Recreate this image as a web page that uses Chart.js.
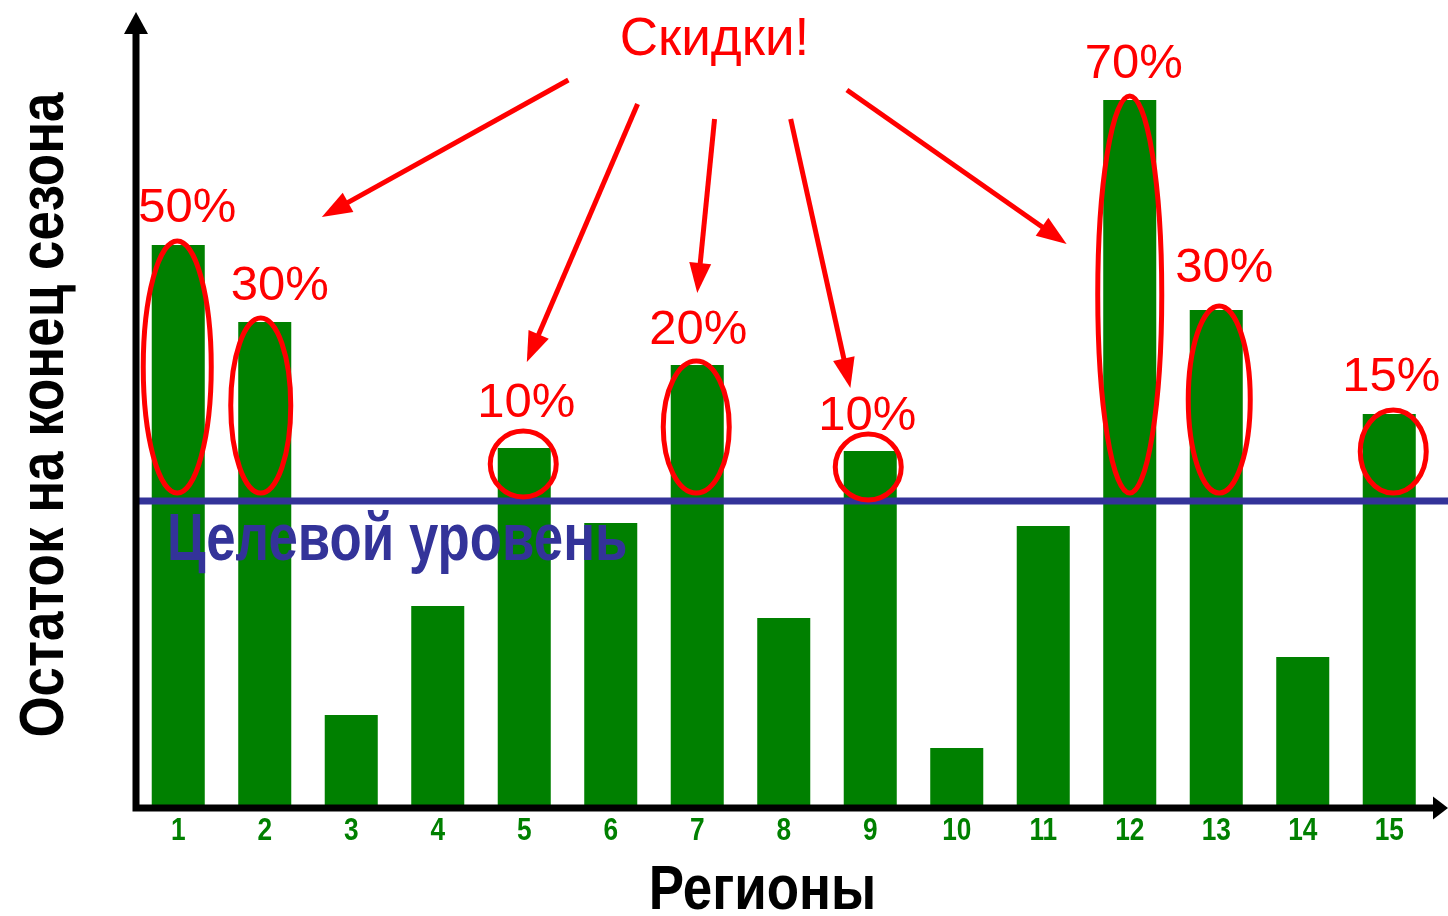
<!DOCTYPE html>
<html>
<head>
<meta charset="utf-8">
<script src="https://cdn.jsdelivr.net/npm/chart.js@4.4.1/dist/chart.umd.min.js"></script>
<style>
  html, body { margin: 0; padding: 0; background: #ffffff; }
  #wrap { width: 1448px; height: 916px; }
</style>
</head>
<body>
<div id="wrap"><canvas id="c" width="1448" height="916"></canvas></div>
<script>
// Regions and end-of-season stock
const regions = ['1', '2', '3', '4', '5', '6', '7', '8', '9', '10', '11', '12', '13', '14', '15'];
const stock = [56.0, 48.3, 9.0, 19.9, 35.7, 28.2, 44.0, 18.7, 35.4, 5.7, 27.9, 70.5, 49.5, 14.8, 39.1];
const targetLevel = 30.4;
const yMax = 79;

// Regions that get a discount, and the discount size
const discountRegions = ['1', '2', '5', '7', '9', '12', '13', '15'];
const discountLabels = ['50%', '30%', '10%', '20%', '10%', '70%', '30%', '15%'];

// Callout arrows from the "Скидки!" heading, in data space: [categoryIndex, value]
const arrowFrom = [[4.51, 72.5], [5.31, 70.1], [6.20, 68.6], [7.08, 68.6], [7.73, 71.5]];
const arrowTo   = [[1.66, 58.8], [4.03, 44.3], [6.00, 51.2], [7.77, 41.7], [10.27, 56.1]];

const GREEN = '#008000';
const BLUE = '#333399';
const RED = '#ff0000';
const SANS = '"Liberation Sans", Arial, sans-serif';
const NARROW_X = 0.82;   // horizontal squeeze giving a narrow bold face

// small nudges for the percentage labels, [dx, dy] in px
const labelShift = [[9, -1], [15, 0], [2, -9], [1, 1], [-3, 1], [4, 0], [8, -6], [2, -1]];
// hand-drawn rings sit a little off the bar centres, [dx, rx] in px
const ringShape = [[-1, 34], [-4, 30], [-1, 33], [-1, 33], [-2, 33], [0, 32], [3, 31], [4, 33]];

function narrowText(ctx, text, x, y, align, squeeze) {
  ctx.save();
  ctx.translate(x, y);
  ctx.scale(squeeze, 1);
  ctx.textAlign = align;
  ctx.fillText(text, 0, 0);
  ctx.restore();
}

function arrow(ctx, x0, y0, x1, y1) {
  const dx = x1 - x0, dy = y1 - y0;
  const len = Math.hypot(dx, dy);
  const ux = dx / len, uy = dy / len;
  const head = 30, half = 11;
  const bx = x1 - ux * head, by = y1 - uy * head;
  ctx.beginPath();
  ctx.moveTo(x0, y0);
  ctx.lineTo(bx + ux * 2, by + uy * 2);
  ctx.stroke();
  ctx.beginPath();
  ctx.moveTo(x1, y1);
  ctx.lineTo(bx - uy * half, by + ux * half);
  ctx.lineTo(bx + uy * half, by - ux * half);
  ctx.closePath();
  ctx.fill();
}

const overlay = {
  id: 'overlay',
  afterDatasetsDraw(chart) {
    const { ctx, chartArea: area, scales: { x, y } } = chart;
    const W = chart.width;
    const yT = y.getPixelForValue(targetLevel);

    ctx.save();
    ctx.textBaseline = 'alphabetic';

    // target level line and its caption
    ctx.strokeStyle = BLUE;
    ctx.lineWidth = 7;
    ctx.beginPath();
    ctx.moveTo(area.left + 3, yT);
    ctx.lineTo(W, yT);
    ctx.stroke();
    ctx.fillStyle = BLUE;
    ctx.font = 'bold 66px ' + SANS;
    narrowText(ctx, 'Целевой уровень', area.left + 32, yT + 59, 'left', 0.80);

    // axes with arrow heads
    ctx.strokeStyle = '#000';
    ctx.fillStyle = '#000';
    ctx.lineWidth = 7;
    const ax = area.left + 1, ay = area.bottom + 3;
    ctx.beginPath();
    ctx.moveTo(ax, ay + 3.5);
    ctx.lineTo(ax, 30);
    ctx.moveTo(ax - 3.5, ay);
    ctx.lineTo(W - 14, ay);
    ctx.stroke();
    ctx.beginPath();
    ctx.moveTo(ax, 12); ctx.lineTo(ax - 12, 34); ctx.lineTo(ax + 12, 34); ctx.closePath();
    ctx.fill();
    ctx.beginPath();
    ctx.moveTo(W, ay); ctx.lineTo(W - 15, ay - 11.5); ctx.lineTo(W - 15, ay + 11.5); ctx.closePath();
    ctx.fill();

    // category tick labels
    ctx.fillStyle = GREEN;
    ctx.font = 'bold 32px ' + SANS;
    x.ticks.forEach((t, i) => {
      narrowText(ctx, x.getLabelForValue(t.value), x.getPixelForTick(i), area.bottom + 35, 'center', NARROW_X);
    });

    // axis titles
    ctx.fillStyle = '#000';
    ctx.font = 'bold 63px ' + SANS;
    narrowText(ctx, 'Регионы', (area.left + W) / 2 - 29, area.bottom + 104, 'center', 0.84);
    ctx.save();
    ctx.translate(63, (area.top + area.bottom) / 2 + 5);
    ctx.rotate(-Math.PI / 2);
    narrowText(ctx, 'Остаток на конец сезона', 0, 0, 'center', 0.84);
    ctx.restore();

    // rings and discount labels
    ctx.strokeStyle = RED;
    ctx.fillStyle = RED;
    ctx.lineWidth = 5;
    ctx.font = '49px ' + SANS;
    ctx.textAlign = 'center';
    discountRegions.forEach((r, i) => {
      const idx = regions.indexOf(r);
      const cx = x.getPixelForValue(idx);
      const top = y.getPixelForValue(stock[idx]);
      const t = top - 4, b = yT - 8;
      let cy, ry;
      if (b - t < 66) { cy = top + 16; ry = 33; }
      else { cy = (t + b) / 2; ry = (b - t) / 2; }
      ctx.beginPath();
      ctx.ellipse(cx + ringShape[i][0], cy, ringShape[i][1], ry, 0, 0, Math.PI * 2);
      ctx.stroke();
      ctx.fillText(discountLabels[i], cx + labelShift[i][0], top - 22 + labelShift[i][1]);
    });

    // heading and callout arrows
    ctx.font = '53px ' + SANS;
    ctx.fillText('Скидки!', x.getPixelForValue(6.2), 55);
    arrowFrom.forEach((p, i) => {
      const q = arrowTo[i];
      arrow(ctx,
        x.getPixelForValue(p[0]), y.getPixelForValue(p[1]),
        x.getPixelForValue(q[0]), y.getPixelForValue(q[1]));
    });
    ctx.restore();
  }
};

new Chart(document.getElementById('c'), {
  type: 'bar',
  data: {
    labels: regions,
    datasets: [{
      data: stock,
      backgroundColor: GREEN,
      borderWidth: 0,
      barPercentage: 0.613,
      categoryPercentage: 1.0
    }]
  },
  options: {
    responsive: false,
    devicePixelRatio: 1,
    animation: false,
    layout: { padding: { top: 15, right: 15.5, left: 0, bottom: 0 } },
    plugins: { legend: { display: false }, tooltip: { enabled: false } },
    scales: {
      x: {
        grid: { display: false, drawTicks: false },
        border: { display: false },
        ticks: { display: false },
        afterFit(s) { s.height = 111; }
      },
      y: {
        min: 0, max: yMax,
        grid: { display: false, drawTicks: false },
        border: { display: false },
        ticks: { display: false },
        afterFit(s) { s.width = 135; }
      }
    }
  },
  plugins: [overlay]
});
</script>
</body>
</html>
